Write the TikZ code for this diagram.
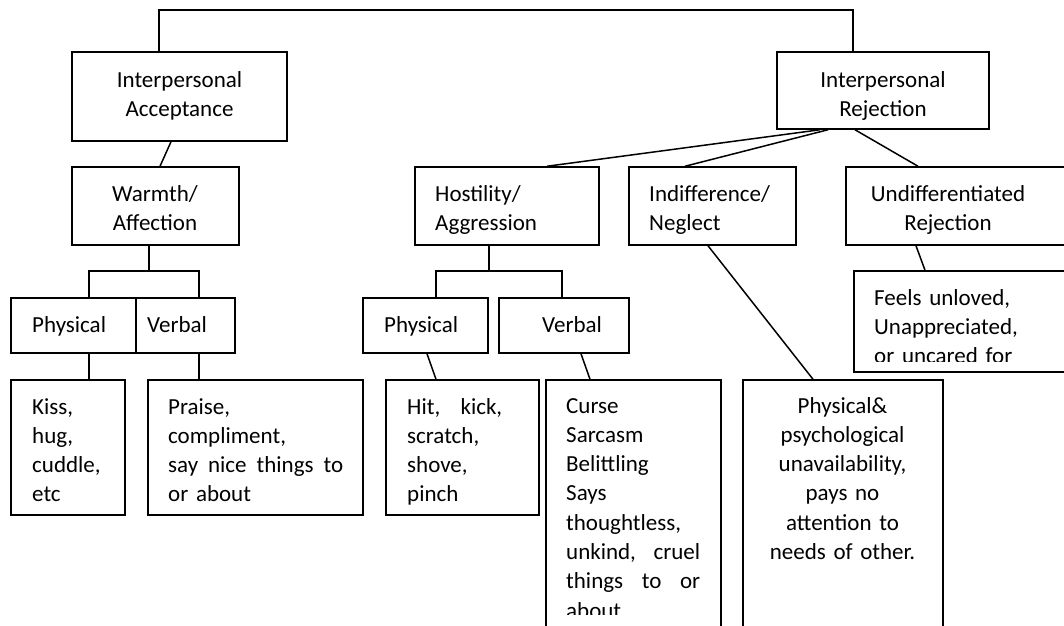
\documentclass[tikz,border=0pt]{standalone}
\usepackage{fontspec}
\setmainfont{Carlito}[WordSpace=0.8]
\usetikzlibrary{fit}
\begin{document}
\begin{tikzpicture}[x=1pt,y=-1pt,
  box/.style={draw, line width=1.5pt, inner sep=0pt},
  txt/.style={inner sep=0pt, font=\fontsize{23}{29.3}\selectfont},
  ln/.style={line width=1.5pt}]
\useasboundingbox (0,0) rectangle (1064,625);
\begin{scope}
\clip (0,0) rectangle (1064,625);
% boxes
\node[box, fit={(72,52) (287,141)}] (IA) {};
\node[box, fit={(777,52) (989,129)}] (IR) {};
\node[box, fit={(72,167) (239,245)}] (WA) {};
\node[box, fit={(415,167) (599,245)}] (HA) {};
\node[box, fit={(629,167) (796,245)}] (IN) {};
\node[box, fit={(846,167) (1090,245)}] (UN) {};
\node[box, fit={(854,271) (1090,372)}] (FE) {};
\node[box, fit={(11,298) (136,353)}] (PL) {};
\node[box, fit={(136,298) (235,353)}] (VL) {};
\node[box, fit={(363,298) (488,353)}] (PH) {};
\node[box, fit={(499,298) (629,353)}] (VH) {};
\node[box, fit={(11,380) (125,515)}] (KI) {};
\node[box, fit={(148,380) (363,515)}] (PR) {};
\node[box, fit={(386,380) (539,515)}] (HI) {};
\node[box, fit={(546,380) (721,650)}] (CU) {};
\node[box, fit={(743,380) (943,650)}] (PA) {};
% texts
\node[txt, anchor=base, text width=200pt, align=center] (IAt) at (179.5,87) {Interpersonal\\Acceptance};
\node[txt, anchor=base, text width=200pt, align=center] (IRt) at (883,87) {Interpersonal\\Rejection};
\node[txt, anchor=base, text width=160pt, align=center] (WAt) at (155,201) {Warmth/\\Affection};
\node[txt, anchor=base west, text width=160pt, align=left] (HAt) at (435,201) {Hostility/\\Aggression};
\node[txt, anchor=base west, text width=160pt, align=left] (INt) at (649,201) {Indifference/\\Neglect};
\node[txt, anchor=base, text width=200pt, align=center] (UNt) at (948,201) {Undifferentiated\\Rejection};
\node[txt, anchor=base west] (PLt) at (32,332) {Physical};
\node[txt, anchor=base west] (VLt) at (147,332) {Verbal};
\node[txt, anchor=base west] (PHt) at (384,332) {Physical};
\node[txt, anchor=base west] (VHt) at (542,332) {Verbal};
\node[txt, anchor=base west, text width=90pt, align=left] (KIt) at (32,414) {Kiss,\\hug,\\cuddle,\\etc};
\node[txt, anchor=base west, text width=175pt, align=left] (PRt) at (168,414) {Praise,\\compliment,\\say\hfill nice\hfill things\hfill to\\or about};
\node[txt, anchor=base west, text width=95pt, align=left] (HIt) at (407,414) {Hit,\hfill kick,\\scratch,\\shove,\\pinch};
\node[txt, anchor=base, text width=190pt, align=center] (PAt) at (842.5,413) {Physical\&\\psychological\\unavailability,\\pays no\\attention to\\needs of other.};
\begin{scope}
\clip (546,380) rectangle (721,614);
\node[txt, anchor=base west, text width=134pt, align=left] (CUt) at (566,413) {Curse\\Sarcasm\\Belittling\\Says\\thoughtless,\\unkind,\hfill cruel\\things\hfill to\hfill or\\about};
\end{scope}
\begin{scope}
\clip (854,271) rectangle (1064,361);
\node[txt, anchor=base west, text width=190pt, align=left] (FEt) at (874,305) {Feels unloved,\\Unappreciated,\\or uncared for};
\end{scope}
% connectors
\coordinate (t1) at (159,10);
\coordinate (t2) at (853,10);
\draw[ln] (IA.north -| t1) -- (t1) -- (t2) -- (IR.north -| t2);
\draw[ln] ([xshift=-8.5pt]IA.south) -- ([xshift=4.5pt]WA.north);
% warmth tree
\coordinate (wj) at (149,271);
\coordinate (wl) at (89,271);
\coordinate (wr) at (199,271);
\draw[ln] (WA.south -| wj) -- (wj);
\draw[ln] (PL.north -| wl) -- (wl) -- (wr) -- (VL.north -| wr);
\draw[ln] (PL.south -| wl) -- (KI.north -| wl);
\draw[ln] (VL.south -| wr) -- (PR.north -| wr);
% hostility tree
\coordinate (hj) at (489,271);
\coordinate (hl) at (436,271);
\coordinate (hr) at (562,271);
\draw[ln] (HA.south -| hj) -- (hj);
\draw[ln] (PH.north -| hl) -- (hl) -- (hr) -- (VH.north -| hr);
\draw[ln] ([xshift=1.5pt]PH.south) -- ([xshift=-26.5pt]HI.north);
\draw[ln] ([xshift=17pt]VH.south) -- ([xshift=-43.5pt]CU.north);
% rejection branches
\draw[ln] ([xshift=-63pt]IR.south) -- ([xshift=40pt]HA.north);
\draw[ln] ([xshift=-55pt]IR.south) -- ([xshift=-27.5pt]IN.north);
\draw[ln] ([xshift=-28pt]IR.south) -- ([xshift=-50pt]UN.north);
\draw[ln] ([xshift=-4.5pt]IN.south) -- ([xshift=-30pt]PA.north);
\draw[ln] ([xshift=-52pt]UN.south) -- ([xshift=-47pt]FE.north);
\end{scope}
\end{tikzpicture}
\end{document}
